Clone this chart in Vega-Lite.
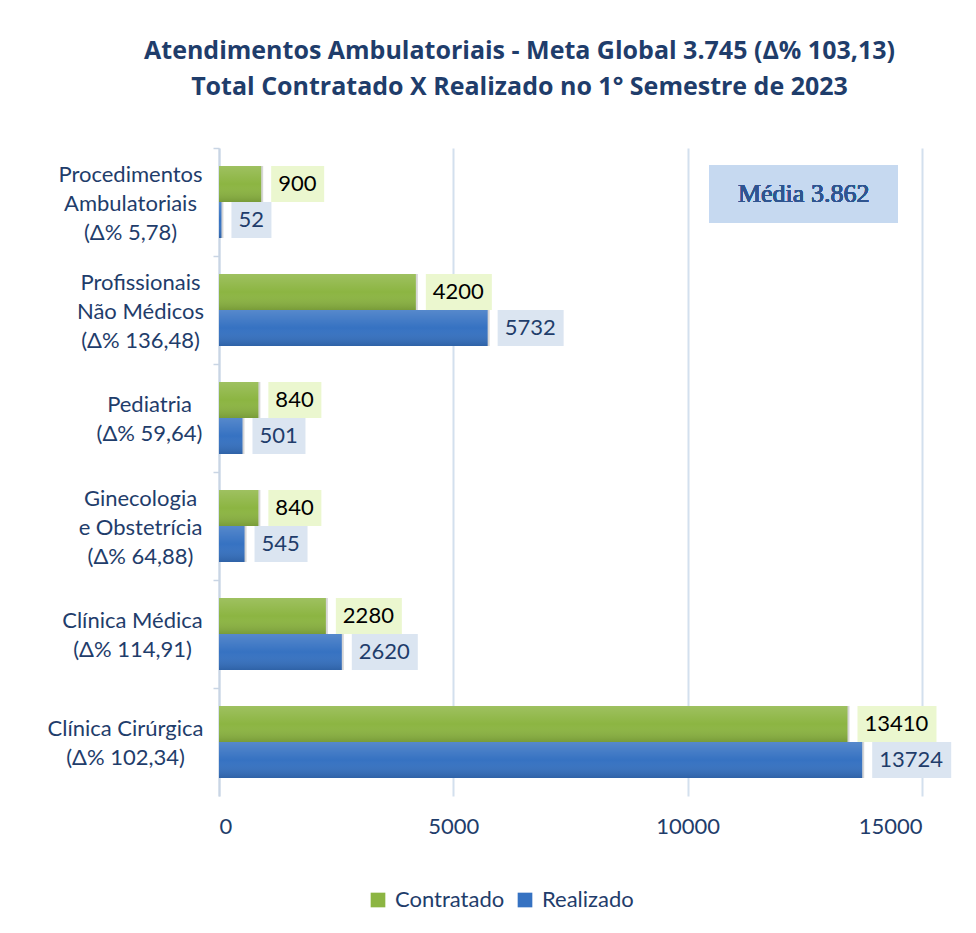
{
  "$schema": "https://vega.github.io/schema/vega-lite/v6.json",
  "autosize": "none",
  "width": 703,
  "height": 648,
  "padding": {"left": 219, "top": 148, "right": 54, "bottom": 137},
  "background": "white",
  "title": {
    "text": ["Atendimentos Ambulatoriais - Meta Global 3.745 (Δ% 103,13)", "Total Contratado X Realizado no 1° Semestre de 2023"],
    "font": "Open Sans",
    "fontSize": 25,
    "fontWeight": "bold",
    "color": "#1f3d6b",
    "anchor": "middle",
    "dx": -51,
    "baseline": "alphabetic",
    "offset": 27,
    "lineHeight": 36
  },
  "config": {
    "view": {"stroke": null},
    "font": "Lato"
  },
  "data": {
    "values": [
      {"cat": "Procedimentos|Ambulatoriais|(Δ% 5,78)", "serie": "Contratado", "valor": 900},
      {"cat": "Procedimentos|Ambulatoriais|(Δ% 5,78)", "serie": "Realizado", "valor": 52},
      {"cat": "Profissionais|Não Médicos|(Δ% 136,48)", "serie": "Contratado", "valor": 4200},
      {"cat": "Profissionais|Não Médicos|(Δ% 136,48)", "serie": "Realizado", "valor": 5732},
      {"cat": "Pediatria|(Δ% 59,64)", "serie": "Contratado", "valor": 840},
      {"cat": "Pediatria|(Δ% 59,64)", "serie": "Realizado", "valor": 501},
      {"cat": "Ginecologia|e Obstetrícia|(Δ% 64,88)", "serie": "Contratado", "valor": 840},
      {"cat": "Ginecologia|e Obstetrícia|(Δ% 64,88)", "serie": "Realizado", "valor": 545},
      {"cat": "Clínica Médica|(Δ% 114,91)", "serie": "Contratado", "valor": 2280},
      {"cat": "Clínica Médica|(Δ% 114,91)", "serie": "Realizado", "valor": 2620},
      {"cat": "Clínica Cirúrgica|(Δ% 102,34)", "serie": "Contratado", "valor": 13410},
      {"cat": "Clínica Cirúrgica|(Δ% 102,34)", "serie": "Realizado", "valor": 13724}
    ]
  },
  "encoding": {
    "y": {
      "field": "cat",
      "type": "nominal",
      "sort": null,
      "scale": {"paddingInner": 0, "paddingOuter": 0},
      "axis": {
        "title": null,
        "labelExpr": "split(datum.label, '|')",
        "labelFont": "Lato",
        "labelFontSize": 22,
        "labelColor": "#1f3d6b",
        "labelLineHeight": 29,
        "labelAlign": "center",
        "labelBaseline": "middle",
        "labelLimit": 300,
        "labelPadding": {
          "condition": [
            {"test": "indexof(datum.value, 'Procedimentos') >= 0", "value": 83},
            {"test": "indexof(datum.value, 'Profissionais') >= 0", "value": 73},
            {"test": "indexof(datum.value, 'Pediatria') >= 0", "value": 64},
            {"test": "indexof(datum.value, 'Ginecologia') >= 0", "value": 73},
            {"test": "indexof(datum.value, 'Clínica Médica') >= 0", "value": 81}
          ],
          "value": 88
        },
        "labelOffset": {
          "condition": [
            {"test": "indexof(datum.value, 'Procedimentos') >= 0", "value": -27},
            {"test": "indexof(datum.value, 'Profissionais') >= 0", "value": -27},
            {"test": "indexof(datum.value, 'Ginecologia') >= 0", "value": -27}
          ],
          "value": -13
        },
        "bandPosition": 0,
        "ticks": true,
        "tickSize": 6,
        "tickColor": "#c9d5e4",
        "tickWidth": 1.5,
        "domainColor": "#c9d5e4",
        "domainWidth": 2,
        "grid": false
      }
    }
  },
  "layer": [
    {
      "mark": {"type": "bar", "color": "#000000", "opacity": 0.16, "xOffset": 2, "x2Offset": 2, "yOffset": 3},
      "encoding": {
        "x": {"field": "valor", "type": "quantitative"},
        "yOffset": {"field": "serie", "type": "nominal", "scale": {"paddingInner": 0, "paddingOuter": 0.5}}
      }
    },
    {
      "mark": {"type": "bar"},
      "encoding": {
        "x": {
          "field": "valor",
          "type": "quantitative",
          "scale": {"domain": [0, 15000], "nice": false},
          "axis": {
            "title": null,
            "values": [0, 5000, 10000, 15000],
            "format": "d",
            "labelFont": "Lato",
            "labelFontSize": 22,
            "labelColor": "#1f3d6b",
            "labelPadding": 20,
            "ticks": false,
            "domain": false,
            "grid": true,
            "gridColor": "#d3e0ee",
            "gridWidth": 2
          }
        },
        "yOffset": {"field": "serie", "type": "nominal", "scale": {"paddingInner": 0, "paddingOuter": 0.5}},
        "color": {
          "field": "serie",
          "type": "nominal",
          "scale": {"domain": ["Contratado", "Realizado"], "range": ["#8cb542", "#3672c2"]},
          "legend": {
            "title": null,
            "orient": "none",
            "direction": "horizontal",
            "legendX": 148,
            "legendY": 741,
            "symbolType": "square",
            "symbolSize": 215,
            "symbolStrokeWidth": 0,
            "labelFont": "Lato",
            "labelFontSize": 22,
            "labelColor": "#1f3d6b",
            "labelOffset": 6,
            "columnPadding": 9
          }
        }
      }
    },
    {
      "mark": {
        "type": "bar",
        "fill": {
          "gradient": "linear",
          "x1": 0, "y1": 0, "x2": 0, "y2": 1,
          "stops": [
            {"offset": 0, "color": "rgba(255,255,255,0.16)"},
            {"offset": 0.5, "color": "rgba(255,255,255,0)"},
            {"offset": 1, "color": "rgba(0,0,0,0.14)"}
          ]
        }
      },
      "encoding": {
        "x": {"field": "valor", "type": "quantitative"},
        "yOffset": {"field": "serie", "type": "nominal", "scale": {"paddingInner": 0, "paddingOuter": 0.5}}
      }
    },
    {
      "mark": {"type": "rect", "xOffset": 10, "x2Offset": {"expr": "24 + 13 * length(toString(datum.valor))"}},
      "encoding": {
        "x": {"field": "valor", "type": "quantitative"},
        "x2": {"field": "valor"},
        "yOffset": {"field": "serie", "type": "nominal", "scale": {"paddingInner": 0, "paddingOuter": 0.5}},
        "fill": {
          "condition": {"test": "datum.serie == 'Contratado'", "value": "#ebf7cf"},
          "value": "#dbe5f1"
        }
      }
    },
    {
      "mark": {"type": "text", "align": "left", "baseline": "middle", "dx": 17, "font": "Lato", "fontSize": 22},
      "encoding": {
        "x": {"field": "valor", "type": "quantitative"},
        "yOffset": {"field": "serie", "type": "nominal", "scale": {"paddingInner": 0, "paddingOuter": 0.5}},
        "text": {"field": "valor", "type": "quantitative", "format": "d"},
        "fill": {
          "condition": {"test": "datum.serie == 'Contratado'", "value": "#000000"},
          "value": "#1f3d6b"
        }
      }
    },
    {
      "mark": {"type": "bar", "size": 58, "yOffset": -8, "color": "#c6d9f0"},
      "encoding": {
        "x": {"datum": 10470, "type": "quantitative"},
        "x2": {"datum": 14480},
        "y": {"datum": "Procedimentos|Ambulatoriais|(Δ% 5,78)"}
      }
    },
    {
      "mark": {"type": "text", "align": "center", "baseline": "middle", "yOffset": -8, "font": "Liberation Serif", "fontSize": 26, "fontWeight": "normal", "fill": "#2f5590", "text": "Média 3.862"},
      "encoding": {
        "x": {"datum": 12475, "type": "quantitative"},
        "y": {"datum": "Procedimentos|Ambulatoriais|(Δ% 5,78)"}
      }
    }
  ]
}
